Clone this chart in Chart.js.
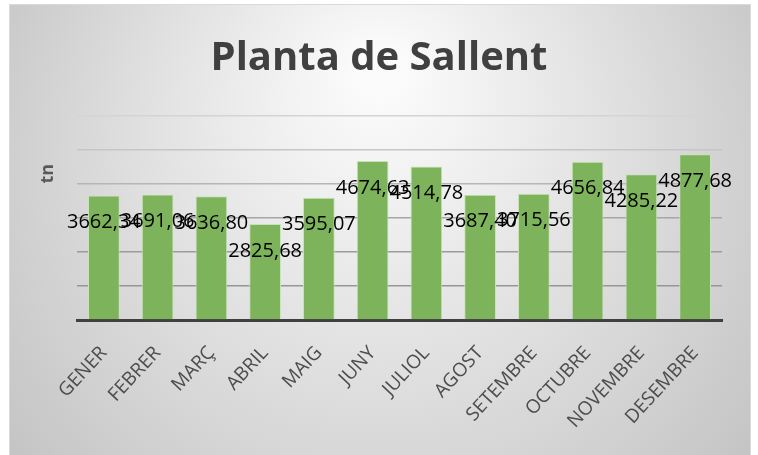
<!DOCTYPE html>
<html>
<head>
<meta charset="utf-8">
<script src="https://cdn.jsdelivr.net/npm/chart.js@4.4.1/dist/chart.umd.min.js"></script>
<style>
  html, body { margin: 0; padding: 0; background: #fff; }
  #wrap { width: 758px; height: 455px; }
</style>
</head>
<body>
<div id="wrap"><canvas id="salChartId" width="758" height="455"></canvas></div>
<script>
var months = ['GENER', 'FEBRER', 'MARÇ', 'ABRIL', 'MAIG', 'JUNY', 'JULIOL', 'AGOST', 'SETEMBRE', 'OCTUBRE', 'NOVEMBRE', 'DESEMBRE'];
var tonnes = [3662.34, 3691.06, 3636.80, 2825.68, 3595.07, 4674.63, 4514.78, 3687.40, 3715.56, 4656.84, 4285.22, 4877.68];
var yTicks = [0, 1000, 2000, 3000, 4000, 5000, 6000];
var yTitle = 'tn';

var gridColors = ['#3f3f3f', '#969696', '#9c9c9c', '#a6a6a6', '#b6b6b6', '#c6c6c6', '#d4d4d4'];

// background panel with the grey radial shading
var panelPlugin = {
    id: 'panel',
    beforeDraw: function(chart) {
        var ctx = chart.ctx;
        ctx.save();
        ctx.fillStyle = '#ffffff';
        ctx.fillRect(0, 0, chart.width, chart.height);
        var g = ctx.createRadialGradient(380, 70, 20, 380, 200, 470);
        g.addColorStop(0, '#fbfbfb');
        g.addColorStop(0.45, '#e2e2e2');
        g.addColorStop(1, '#c2c2c2');
        ctx.fillStyle = g;
        ctx.fillRect(9, 4, 742, 460);
        ctx.strokeStyle = '#dadada';
        ctx.lineWidth = 1;
        ctx.strokeRect(9.5, 4.5, 741, 460);
        ctx.restore();
    }
};

// value labels a bit below the top of each bar, plus the axis name
var valuePlugin = {
    id: 'values',
    afterDatasetsDraw: function(chart) {
        var ctx = chart.ctx;
        var meta = chart.getDatasetMeta(0);
        ctx.save();
        ctx.font = '20px "Open Sans"';
        ctx.fillStyle = '#000000';
        ctx.textAlign = 'center';
        ctx.textBaseline = 'middle';
        meta.data.forEach(function(bar, i) {
            var txt = tonnes[i].toFixed(2).replace('.', ',');
            ctx.fillText(txt, bar.x, bar.y + 27);
        });

        // "tn" sits higher than the middle of the axis in the original
        var yScale = chart.scales.y;
        ctx.translate(yScale.left + 12, yScale.getPixelForValue(4300));
        ctx.rotate(-Math.PI / 2);
        ctx.font = 'bold 18px "Open Sans"';
        ctx.fillStyle = '#595959';
        ctx.fillText(yTitle, 0, 0);
        ctx.restore();
    }
};

function init() {
    var chartEl = document.getElementById('salChartId').getContext('2d');
    new Chart(chartEl, {
        type: 'bar',
        data: {
            labels: months,
            datasets: [{
                data: tonnes,
                backgroundColor: '#7db35b',
                borderColor: '#c9e3b8',
                borderWidth: 1,
                barPercentage: 0.59,
                categoryPercentage: 1
            }]
        },
        options: {
            responsive: false,
            animation: false,
            layout: { padding: { top: 11, left: 36, right: 36, bottom: 0 } },
            plugins: {
                legend: { display: false },
                tooltip: { enabled: false },
                title: {
                    display: true,
                    text: 'Planta de Sallent',
                    color: '#404040',
                    font: { family: 'Open Sans', size: 40, weight: 'bold' },
                    padding: { top: 24, bottom: 33 }
                }
            },
            scales: {
                x: {
                    grid: { display: false },
                    border: { display: true, color: '#404040', width: 3 },
                    afterFit: function(scale) { scale.height = 135; },
                    ticks: {
                        color: '#4d4d4d',
                        font: { family: 'Open Sans', size: 19 },
                        minRotation: 47,
                        maxRotation: 47,
                        padding: 14
                    }
                },
                y: {
                    min: 0,
                    max: 6000,
                    afterFit: function(scale) { scale.width = 41; },
                    afterBuildTicks: function(scale) {
                        scale.ticks = yTicks.map(function(v) { return { value: v }; });
                    },
                    border: { display: false },
                    grid: {
                        drawTicks: false,
                        lineWidth: 1.5,
                        color: function(c) { return gridColors[c.index] || '#bbbbbb'; }
                    },
                    ticks: { display: false },
                    title: { display: false }
                }
            }
        },
        plugins: [panelPlugin, valuePlugin]
    });
}

init();
</script>
</body>
</html>
